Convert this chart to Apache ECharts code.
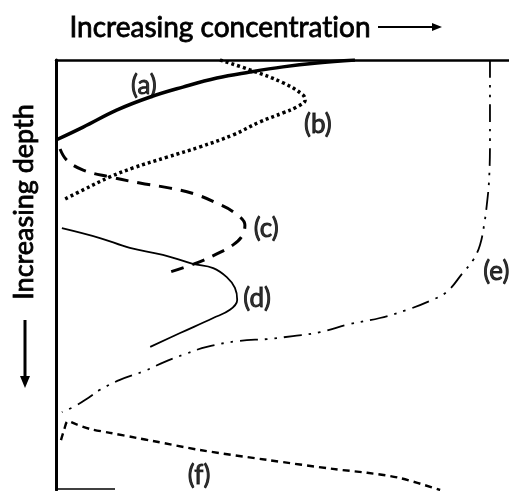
<!DOCTYPE html>
<html>
<head>
<meta charset="utf-8">
<script src="https://cdn.jsdelivr.net/npm/echarts@6/dist/echarts.min.js"></script>
<style>html,body{margin:0;padding:0;background:#fff}#c{width:509px;height:491px}</style>
</head>
<body>
<div id="c"></div>
<script>
// Concentration (x, arbitrary units 0-100) vs depth (y, arbitrary units 0-100, increasing downward)
var curveA = [[0,18.6],[6,15.6],[13.5,11.6],[20.8,8.6],[28,6.3],[35.5,4.2],[42.8,2.8],[50.1,1.6],[57.6,0.7],[66,0]];
var curveB = [[36.2,0],[42.8,2.3],[50.1,5.3],[54.5,8.1],[55.0,9.3],[53.2,10.9],[50.1,12.3],[45.0,14.4],[39.1,17.4],[31.8,20.2],[24.5,22.6],[17.0,25.1],[11.9,27.2],[6.0,30.2],[1.5,32.6]];
var curveC = [[0.9,20.7],[2.4,23.3],[6.0,25.6],[11.9,27.2],[18.5,28.6],[25.2,29.8],[30.7,31.2],[35.5,33.3],[39.5,35.6],[41.7,38.4],[41.1,40.9],[39.1,43.0],[35.5,45.1],[31.1,47.2],[24.5,49.5]];
var curveD = [[1.3,39.1],[9.7,41.4],[16.3,43.7],[23.6,45.3],[30.2,47.4],[34.7,48.4],[37.7,50.5],[39.5,53.0],[40.0,55.8],[38.4,58.1],[34.7,60.0],[27.4,63.5],[20.8,66.7]];
var curveE = [[95.8,0],[95.8,9.3],[95.8,18.6],[95.6,27.9],[95.1,33.7],[94.5,38.4],[93.6,43.0],[92.1,46.5],[89.8,49.5],[86.3,53.9],[82.6,56.0],[77.5,58.1],[71.5,60.0],[64.9,61.4],[58.3,63.3],[52.3,64.2],[46.6,64.9],[40.6,65.3],[33.3,66.7],[28.5,68.4],[24.0,70.2],[19.6,72.3],[14.1,74.4],[9.7,76.7],[7.1,78.6],[4.2,80.5],[1.3,81.9]];
var curveF = [[1.1,88.4],[1.8,86.0],[2.6,84.0],[4.4,84.7],[7.5,85.8],[11.9,86.7],[17.9,87.9],[21.4,88.6],[31.8,90.7],[46.6,93.0],[61.1,95.1],[68.7,96.0],[75.9,97.2],[84.8,100]];
var labelNames = ['(a)','(b)','(c)','(d)','(e)','(f)'];
var labelPos = [[19.4,6.0],[57.8,15.1],[46.4,39.3],[44.4,55.5],[97.2,49.3],[31.6,96.7]];
var xTitleParts = ['Increasing concentrat', 'ion'];
var yTitle = 'Increasing depth';

var FONT = 'Lato';
function line(data, style, smooth) {
  return {type:'line', data:data, symbol:'none', smooth: smooth, silent:true,
          lineStyle: Object.assign({color:'#000', cap:'butt', join:'round'}, style)};
}
var titleStyle = {fontFamily:FONT, fontSize:28, fill:'#000', stroke:'#000', lineWidth:0.8};
var chart = echarts.init(document.getElementById('c'), null, {renderer:'canvas'});
chart.setOption({
  animation:false,
  backgroundColor:'#fff',
  grid:{left:56, right:0, top:60, bottom:1},
  xAxis:{type:'value', min:0, max:100, position:'top',
    axisLine:{show:true, onZero:false, lineStyle:{color:'#000', width:2.5}},
    axisTick:{show:false}, axisLabel:{show:false}, splitLine:{show:false}},
  yAxis:{type:'value', min:0, max:100, inverse:true,
    axisLine:{show:true, onZero:false, lineStyle:{color:'#000', width:3}},
    axisTick:{show:false}, axisLabel:{show:false}, splitLine:{show:false}},
  series:[
    line(curveA, {width:3.5}, 0.4),
    line(curveB, {width:3.5, type:[3,3]}, 0.4),
    line(curveC, {width:3, type:[13,9]}, 0.4),
    line(curveD, {width:1.8}, 0.4),
    line(curveE, {width:1.8, type:[18,7,2.5,7,2.5,7]}, 0.4),
    line(curveF, {width:2.4, type:[7,5]}, 0.3),
    {type:'scatter', symbolSize:0, silent:true,
     data: labelNames.map(function(n,i){return {name:n, value:labelPos[i]};}),
     label:{show:true, position:'inside', formatter:'{b}', color:'#000',
            fontFamily:FONT, fontSize:26, fontWeight:'normal',
            textBorderColor:'#000', textBorderWidth:0.9}}
  ],
  graphic:[
    {type:'text', x:220, y:28, style:{
      text:'{t|' + xTitleParts[0] + '}{t|' + xTitleParts[1] + '}',
      rich:{t:titleStyle}, fill:'#000', font:'normal 28px ' + FONT,
      textAlign:'center', textVerticalAlign:'middle'}},
    {type:'line', shape:{x1:378, y1:27, x2:434, y2:27}, style:{stroke:'#000', lineWidth:2}},
    {type:'polygon', shape:{points:[[432,23],[442,27],[432,31]]}, style:{fill:'#000'}},
    {type:'text', x:24, y:202, rotation:Math.PI/2, style:{text:yTitle, fill:'#000', font:'normal 27px ' + FONT, textAlign:'center', textVerticalAlign:'middle', stroke:'#000', lineWidth:0.8}},
    {type:'line', shape:{x1:25, y1:320, x2:25, y2:378}, style:{stroke:'#000', lineWidth:3}},
    {type:'polygon', shape:{points:[[20,376],[30,376],[25,388]]}, style:{fill:'#000'}},
    {type:'line', shape:{x1:56, y1:489, x2:115, y2:489}, style:{stroke:'#000', lineWidth:1.5}}
  ]
});
</script>
</body>
</html>
